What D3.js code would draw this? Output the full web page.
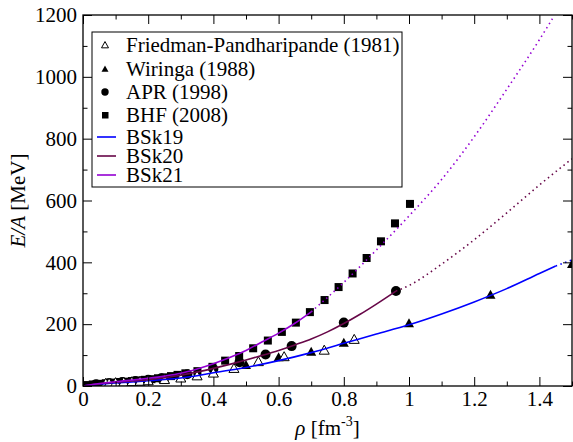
<!DOCTYPE html>
<html><head><meta charset="utf-8">
<script src="https://cdn.jsdelivr.net/npm/d3@7"></script>
</head><body style="margin:0;background:#fff">
<svg id="chart" width="573" height="442" style="display:block"></svg>
<script>
// ---- tick data ----
const xTicks = [0, 0.2, 0.4, 0.6, 0.8, 1, 1.2, 1.4];
const xTickLabels = ["0", "0.2", "0.4", "0.6", "0.8", "1", "1.2", "1.4"];
const xMinorTicks = [0.1, 0.3, 0.5, 0.7, 0.9, 1.1, 1.3, 1.5];
const yTicks = [0, 200, 400, 600, 800, 1000, 1200];
const yTickLabels = ["0", "200", "400", "600", "800", "1000", "1200"];
const yMinorTicks = [100, 300, 500, 700, 900, 1100];

// ---- symbol series ----
const fpRho = [0.07, 0.08, 0.1, 0.125, 0.15, 0.175, 0.2, 0.25, 0.3, 0.35, 0.4, 0.463, 0.538, 0.617, 0.74, 0.832];
const fpE   = [9, 9.5, 11, 12.5, 14, 15.5, 17, 21, 26, 33, 42, 57, 79, 95, 116, 151];

const wirRho = [0.07, 0.1, 0.15, 0.2, 0.25, 0.3, 0.35, 0.4, 0.5, 0.6, 0.7, 0.8, 1.0, 1.25, 1.5];
const wirE   = [9, 11, 14, 18, 23, 28, 35, 44, 68, 93, 111, 140, 203, 295, 395];

const aprRho = [0.04, 0.08, 0.12, 0.16, 0.2, 0.24, 0.32, 0.4, 0.48, 0.56, 0.64, 0.8, 0.96];
const aprE   = [6, 9.5, 13, 16, 20, 25, 38, 55, 77, 102, 129, 205, 307];

const bhfRho = [0.01, 0.03, 0.05, 0.07, 0.09, 0.11, 0.13, 0.15, 0.17, 0.19, 0.21, 0.23, 0.25, 0.27, 0.29,
                0.314, 0.351, 0.397, 0.436, 0.479, 0.522, 0.567, 0.61, 0.653, 0.696, 0.741, 0.784, 0.827, 0.87, 0.914, 0.957, 1.003];
const bhfE   = [3, 5, 7, 9, 11, 13, 14, 16, 18, 20, 22, 25, 28, 32, 36,
                41, 48, 62, 82, 97, 122, 147, 175, 205, 239, 278, 320, 364, 414, 468, 526, 589];

// ---- curve series (solid part, dotted part) ----
const bsk19Rho = [0, 0.05, 0.1, 0.15, 0.2, 0.25, 0.3, 0.35, 0.4, 0.5, 0.6, 0.7, 0.8, 0.9, 1.0, 1.1, 1.2, 1.3, 1.4, 1.45];
const bsk19E   = [0, 6, 10, 13, 17, 21, 26, 33, 43, 60, 82, 108, 138, 168, 198, 233, 272, 315, 364, 388];
const bsk19DotRho = [1.45, 1.5];
const bsk19DotE   = [388, 408];

const bsk20Rho = [0, 0.05, 0.1, 0.15, 0.2, 0.25, 0.3, 0.35, 0.4, 0.45, 0.5, 0.55, 0.6, 0.65, 0.7, 0.75, 0.8, 0.85, 0.9, 0.96];
const bsk20E   = [0, 7, 12, 16, 20, 27, 35, 45, 57, 70, 84, 99, 115, 133, 152, 175, 202, 232, 265, 307];
const bsk20DotRho = [0.96, 1.0, 1.1, 1.2, 1.3, 1.4, 1.5];
const bsk20DotE   = [307, 325, 394, 473, 560, 650, 735];

const bsk21Rho = [0, 0.05, 0.1, 0.15, 0.2, 0.25, 0.3, 0.35, 0.4, 0.45, 0.5, 0.55, 0.6, 0.65, 0.7];
const bsk21E   = [0, 8, 14, 19, 25, 32, 41, 55, 72, 92, 115, 143, 171, 203, 240];
const bsk21DotRho = [0.7, 0.8, 0.9, 1.0, 1.1, 1.2, 1.3, 1.4, 1.44];
const bsk21DotE   = [240, 335, 440, 550, 668, 806, 960, 1120, 1188];

const legendLabels = ["Friedman-Pandharipande (1981)", "Wiringa (1988)", "APR (1998)", "BHF (2008)", "BSk19", "BSk20", "BSk21"];
const colors = {bsk19: "#0000ff", bsk20: "#670748", bsk21: "#9400d3"};

// ---- layout ----
const FONT = '"Liberation Serif", serif';
const L = 83, R = 572, T = 15, B = 386;
const svg = d3.select("#chart");
const x = d3.scaleLinear().domain([0, 1.5]).range([L, R]);
const y = d3.scaleLinear().domain([0, 1200]).range([B, T]);
const zip = (a, b) => a.map((v, i) => [v, b[i]]);

svg.append("defs").append("clipPath").attr("id", "clip")
  .append("rect").attr("x", L).attr("y", T).attr("width", R - L).attr("height", B - T);

const plot = svg.append("g").attr("clip-path", "url(#clip)");

// symbols
function tri(cx, cy, s) {
  const h = s * 0.9;
  return `M${cx},${cy - h * 0.55}L${cx + s / 2},${cy + h * 0.45}L${cx - s / 2},${cy + h * 0.45}Z`;
}
plot.append("g").selectAll("rect").data(zip(bhfRho, bhfE)).join("rect")
  .attr("x", d => x(d[0]) - 4).attr("y", d => y(d[1]) - 4)
  .attr("width", 8).attr("height", 8).attr("fill", "#000");
plot.append("g").selectAll("circle").data(zip(aprRho, aprE)).join("circle")
  .attr("cx", d => x(d[0])).attr("cy", d => y(d[1])).attr("r", 5).attr("fill", "#000");
plot.append("g").selectAll("path").data(zip(wirRho, wirE)).join("path")
  .attr("d", d => tri(x(d[0]), y(d[1]), 10)).attr("fill", "#000");
plot.append("g").selectAll("path").data(zip(fpRho, fpE)).join("path")
  .attr("d", d => tri(x(d[0]), y(d[1]), 10)).attr("fill", "#fff").attr("stroke", "#000").attr("stroke-width", 1);

// curves
const line = d3.line().x(d => x(d[0])).y(d => y(d[1])).curve(d3.curveMonotoneX);
function drawCurve(rx, ey, color, dotted) {
  const p = plot.append("path").datum(zip(rx, ey)).attr("d", line)
    .attr("fill", "none").attr("stroke", color).attr("stroke-width", 1.6);
  if (dotted) p.attr("stroke-dasharray", "1.5,3.5");
}
drawCurve(bsk19Rho, bsk19E, colors.bsk19, false);
drawCurve(bsk19DotRho, bsk19DotE, colors.bsk19, true);
drawCurve(bsk20Rho, bsk20E, colors.bsk20, false);
drawCurve(bsk20DotRho, bsk20DotE, colors.bsk20, true);
drawCurve(bsk21Rho, bsk21E, colors.bsk21, false);
drawCurve(bsk21DotRho, bsk21DotE, colors.bsk21, true);

// axes (ticks inward on all four sides)
function styleAxis(g) {
  g.attr("font-family", null).attr("font-size", null);
  g.select(".domain").remove();
  g.selectAll("line").attr("stroke", "#000").attr("stroke-width", 1);
  g.selectAll("text").attr("fill", "#000").style("font-family", FONT).style("font-size", "21px");
}
svg.append("g").attr("transform", `translate(0,${B})`)
  .call(d3.axisBottom(x).tickValues(xTicks).tickSize(-9).tickPadding(5)
    .tickFormat((d, i) => xTickLabels[i])).call(styleAxis);
svg.append("g").attr("transform", `translate(0,${B})`)
  .call(d3.axisBottom(x).tickValues(xMinorTicks).tickSize(-4.5).tickFormat("")).call(styleAxis);
svg.append("g").attr("transform", `translate(0,${T})`)
  .call(d3.axisTop(x).tickValues(xTicks).tickSize(-9).tickFormat("")).call(styleAxis);
svg.append("g").attr("transform", `translate(0,${T})`)
  .call(d3.axisTop(x).tickValues(xMinorTicks).tickSize(-4.5).tickFormat("")).call(styleAxis);
svg.append("g").attr("transform", `translate(${L},0)`)
  .call(d3.axisLeft(y).tickValues(yTicks).tickSize(-9).tickPadding(6)
    .tickFormat((d, i) => yTickLabels[i])).call(styleAxis);
svg.append("g").attr("transform", `translate(${L},0)`)
  .call(d3.axisLeft(y).tickValues(yMinorTicks).tickSize(-4.5).tickFormat("")).call(styleAxis);
svg.append("g").attr("transform", `translate(${R},0)`)
  .call(d3.axisRight(y).tickValues(yTicks).tickSize(-9).tickFormat("")).call(styleAxis);
svg.append("g").attr("transform", `translate(${R},0)`)
  .call(d3.axisRight(y).tickValues(yMinorTicks).tickSize(-4.5).tickFormat("")).call(styleAxis);

// frame
svg.append("rect").attr("x", L).attr("y", T).attr("width", R - L).attr("height", B - T)
  .attr("fill", "none").attr("stroke", "#000").attr("stroke-width", 1.3);

// axis titles
const xt = svg.append("text").attr("x", (L + R) / 2).attr("y", 435).attr("text-anchor", "middle")
  .attr("fill", "#000").style("font-family", FONT).style("font-size", "21px");
xt.append("tspan").style("font-style", "italic").text("ρ");
xt.append("tspan").text(" [fm");
xt.append("tspan").attr("dy", -9).style("font-size", "14px").text("-3");
xt.append("tspan").attr("dy", 9).text("]");

const yt = svg.append("text").attr("transform", `translate(25,${(T + B) / 2}) rotate(-90)`)
  .attr("text-anchor", "middle").attr("fill", "#000").style("font-family", FONT).style("font-size", "21px");
yt.append("tspan").style("font-style", "italic").text("E/A");
yt.append("tspan").text(" [MeV]");

// legend
const lg = svg.append("g");
lg.append("rect").attr("x", 92).attr("y", 32).attr("width", 310).attr("height", 155)
  .attr("fill", "#fff").attr("stroke", "#000").attr("stroke-width", 1);
const rowY = [45, 69, 92, 115, 137, 156, 175];
const symX = 105, txtX = 126;
lg.append("path").attr("d", tri(symX, rowY[0], 7)).attr("fill", "#fff").attr("stroke", "#000").attr("stroke-width", 1);
lg.append("path").attr("d", tri(symX, rowY[1], 7)).attr("fill", "#000");
lg.append("circle").attr("cx", symX).attr("cy", rowY[2]).attr("r", 3.7).attr("fill", "#000");
lg.append("rect").attr("x", symX - 3).attr("y", rowY[3] - 3).attr("width", 6.5).attr("height", 6.5).attr("fill", "#000");
[colors.bsk19, colors.bsk20, colors.bsk21].forEach((c, i) => {
  lg.append("line").attr("x1", 97).attr("x2", 116).attr("y1", rowY[4 + i]).attr("y2", rowY[4 + i])
    .attr("stroke", c).attr("stroke-width", 1.6);
});
lg.selectAll("text.lbl").data(legendLabels).join("text").attr("class", "lbl")
  .attr("x", txtX).attr("y", (d, i) => rowY[i] + 7).attr("fill", "#000")
  .style("font-family", FONT).style("font-size", "21px").text(d => d);
</script>
</body></html>
